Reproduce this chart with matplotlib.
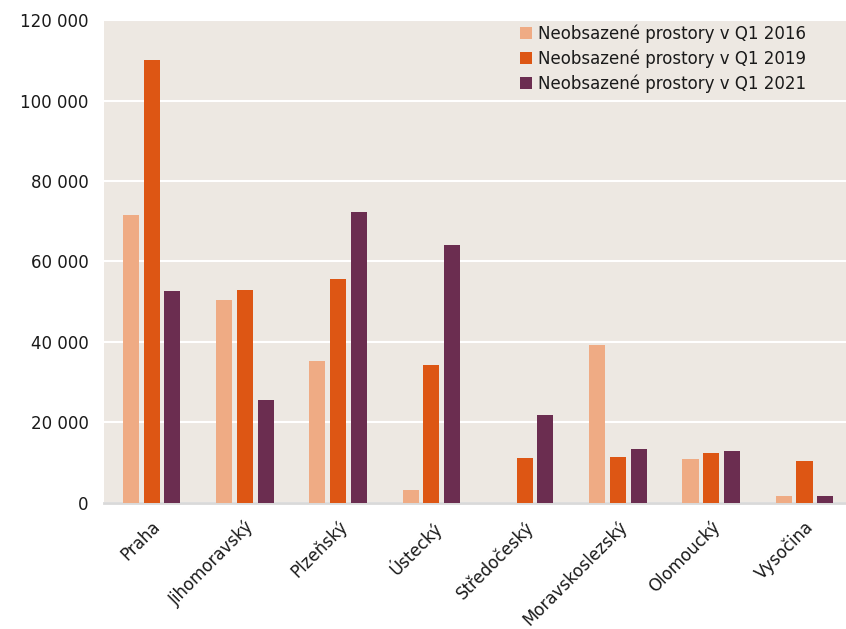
import matplotlib.pyplot as plt
import numpy as np

regions = ['Praha', 'Jihomoravský', 'Plzeňský', 'Ústecký', 'Středočeský',
           'Moravskoslezský', 'Olomoucký', 'Vysočina']
q1_2016 = [71500, 50500, 35100, 3000, 0, 39300, 10900, 1500]
q1_2019 = [110000, 52900, 55700, 34100, 11100, 11400, 12300, 10400]
q1_2021 = [52500, 25400, 72300, 64000, 21700, 13200, 12700, 1500]
series_labels = ['Neobsazené prostory v Q1 2016',
                 'Neobsazené prostory v Q1 2019',
                 'Neobsazené prostory v Q1 2021']
colors = ['#EFAB84', '#DD5614', '#6B2D50']

plt.rcParams['font.family'] = 'DejaVu Sans'

fig = plt.figure(figsize=(8.46, 6.29), dpi=100)
ax = fig.add_axes([0.1229, 0.2011, 0.8771, 0.7669])
ax.set_facecolor('#EDE8E2')

x = np.arange(len(regions))
width = 0.172
step = 0.222
for i, (vals, lab, col) in enumerate(zip([q1_2016, q1_2019, q1_2021], series_labels, colors)):
    ax.bar(x + (i - 1) * step, vals, width, color=col, label=lab, zorder=3)

ax.set_ylim(0, 120000)
ax.set_xlim(-0.51, 7.445)
yticks = np.arange(0, 120001, 20000)
ax.set_yticks(yticks)
ax.set_yticklabels([f'{v:,}'.replace(',', ' ') for v in yticks], fontsize=12, color='#1a1a1a')
ax.set_xticks(x)
ax.set_xticklabels(regions, rotation=45, ha='right', rotation_mode='anchor',
                   fontsize=12, color='#1a1a1a')
ax.tick_params(axis='both', length=0)
ax.tick_params(axis='y', pad=11)
ax.tick_params(axis='x', pad=11)

ax.grid(axis='y', color='white', linewidth=1.5, zorder=0)
ax.set_axisbelow(True)
for side in ['top', 'right', 'left']:
    ax.spines[side].set_visible(False)
ax.spines['bottom'].set_color('#D9D9D9')
ax.spines['bottom'].set_linewidth(2)

leg = ax.legend(loc='upper right', bbox_to_anchor=(0.96, 1.012), frameon=False, fontsize=12,
                handlelength=0.7, handleheight=0.7, handletextpad=0.4, labelspacing=0.38,
                borderaxespad=0.2)
for t in leg.get_texts():
    t.set_color('#1a1a1a')

fig.savefig('out.png', dpi=100)
